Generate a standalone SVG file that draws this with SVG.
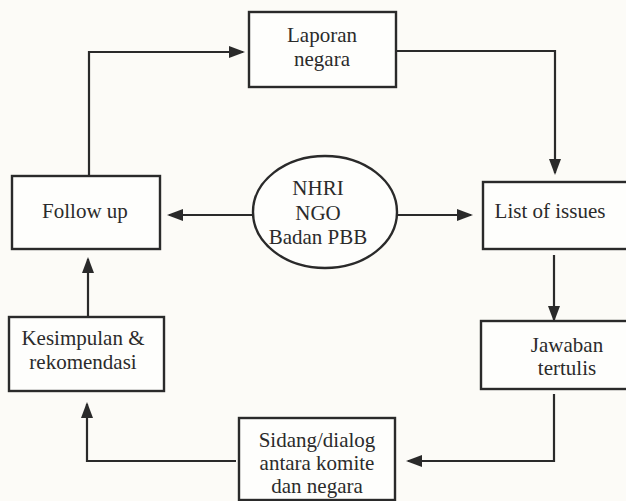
<svg xmlns="http://www.w3.org/2000/svg" width="626" height="501" viewBox="0 0 626 501">
  <defs>
    <style>
      .box { fill: #fefefc; stroke: #2a2a2a; stroke-width: 2.4; }
      .conn { fill: none; stroke: #2a2a2a; stroke-width: 2.2; }
    </style>
    <marker id="ah" viewBox="0 0 16 12" refX="14" refY="6" markerWidth="16" markerHeight="12" orient="auto" markerUnits="userSpaceOnUse">
      <path d="M0,0 L16,6 L0,12 z" fill="#2a2a2a"/>
    </marker>
  </defs>
  <rect x="0" y="0" width="626" height="501" fill="#fcfbf7"/>

  <g id="connectors">
    <path class="conn" d="M89,176 V52 H243" marker-end="url(#ah)"/>
    <path class="conn" d="M396,51 H555 V173" marker-end="url(#ah)"/>
    <path class="conn" d="M253,215 H169" marker-end="url(#ah)"/>
    <path class="conn" d="M397,215 H471" marker-end="url(#ah)"/>
    <path class="conn" d="M554,255 V320" marker-end="url(#ah)"/>
    <path class="conn" d="M554,394 V461 H408" marker-end="url(#ah)"/>
    <path class="conn" d="M236,461 H87 V404" marker-end="url(#ah)"/>
    <path class="conn" d="M88,317 V259" marker-end="url(#ah)"/>
  </g>

  <g font-family="'Liberation Serif', 'DejaVu Serif', 'Times New Roman', serif" font-size="21" fill="#2b2b2b" text-anchor="middle">
    <g id="laporan">
      <rect class="box" x="249" y="12" width="147" height="75"/>
      <text x="322" y="42">Laporan</text>
      <text x="322" y="66">negara</text>
    </g>

    <g id="followup">
      <rect class="box" x="12" y="176" width="148" height="73"/>
      <text x="85" y="218">Follow up</text>
    </g>

    <g id="center">
      <ellipse class="box" cx="325" cy="212" rx="72" ry="56"/>
      <text x="318" y="195">NHRI</text>
      <text x="318" y="220">NGO</text>
      <text x="318" y="244">Badan PBB</text>
    </g>

    <g id="listofissues">
      <rect class="box" x="483" y="182" width="145" height="67"/>
      <text x="550" y="218">List of issues</text>
    </g>

    <g id="jawaban">
      <rect class="box" x="481" y="321" width="147" height="68"/>
      <text x="567" y="352">Jawaban</text>
      <text x="567" y="375">tertulis</text>
    </g>

    <g id="sidang">
      <rect class="box" x="239" y="418" width="156" height="82"/>
      <text x="317" y="447">Sidang/dialog</text>
      <text x="317" y="470">antara komite</text>
      <text x="317" y="493">dan negara</text>
    </g>

    <g id="kesimpulan">
      <rect class="box" x="9" y="317" width="155" height="74"/>
      <text x="83" y="345">Kesimpulan &amp;</text>
      <text x="83" y="369">rekomendasi</text>
    </g>
  </g>
</svg>
